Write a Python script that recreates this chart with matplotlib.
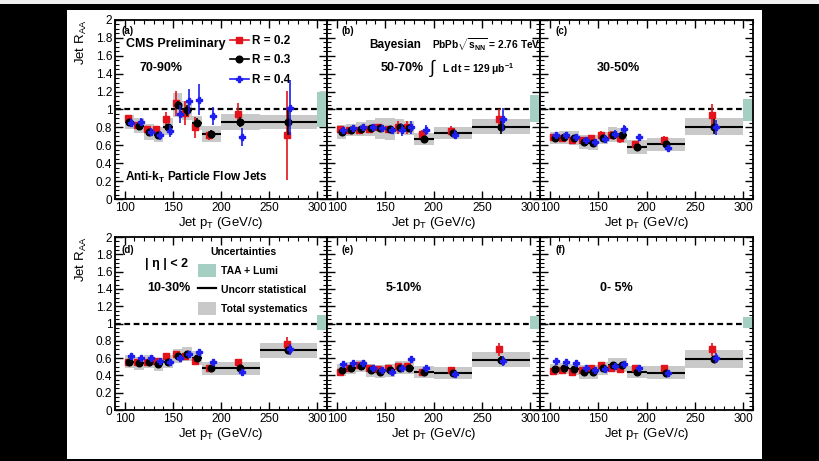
import matplotlib
matplotlib.use('Agg')
import matplotlib.pyplot as plt
from matplotlib.patches import Rectangle, Patch
from matplotlib.lines import Line2D
from matplotlib.ticker import MultipleLocator, FuncFormatter

plt.rcParams['font.family'] = ['Liberation Sans', 'DejaVu Sans']
plt.rcParams['mathtext.fontset'] = 'custom'
plt.rcParams['mathtext.rm'] = 'Liberation Sans'
plt.rcParams['mathtext.it'] = 'Liberation Sans:italic'
plt.rcParams['mathtext.bf'] = 'Liberation Sans:bold'

# bins in jet pT (GeV/c)
bin_lo = [100, 110, 120, 130, 140, 150, 160, 170, 180, 200, 240]
bin_hi = [110, 120, 130, 140, 150, 160, 170, 180, 200, 240, 300]
pt = [105, 115, 125, 135, 145, 155, 165, 175, 190, 220, 270]

# (a) 70-90%
r02_a = [0.90, 0.83, 0.78, 0.78, 0.89, 1.07, 0.96, 0.80, 0.71, 0.95, 0.71]
r03_a = [0.86, 0.82, 0.75, 0.72, 0.81, 1.05, 0.99, 0.85, 0.73, 0.86, 0.86]
r04_a = [0.85, 0.86, 0.75, 0.71, 0.76, 0.95, 1.09, 1.11, 0.93, 0.69, 1.02]
e02_a = [0.04, 0.03, 0.04, 0.04, 0.08, 0.14, 0.13, 0.12, 0.05, 0.12, 0.50]
e03_a = [0.02, 0.02, 0.02, 0.02, 0.03, 0.05, 0.06, 0.05, 0.04, 0.06, 0.15]
e04_a = [0.04, 0.04, 0.04, 0.05, 0.07, 0.10, 0.14, 0.17, 0.10, 0.10, 0.31]
sys_a = [0.08, 0.08, 0.09, 0.08, 0.09, 0.13, 0.11, 0.08, 0.09, 0.09, 0.08]

# (b) 50-70%
r02_b = [0.78, 0.77, 0.77, 0.78, 0.80, 0.78, 0.80, 0.80, 0.73, 0.76, 0.89]
r03_b = [0.75, 0.77, 0.78, 0.79, 0.79, 0.78, 0.81, 0.79, 0.67, 0.74, 0.81]
r04_b = [0.77, 0.79, 0.80, 0.80, 0.79, 0.77, 0.77, 0.80, 0.77, 0.72, 0.89]
e02_b = [0.03, 0.03, 0.03, 0.04, 0.04, 0.04, 0.07, 0.07, 0.04, 0.06, 0.12]
e03_b = [0.02, 0.02, 0.02, 0.02, 0.02, 0.02, 0.03, 0.03, 0.02, 0.02, 0.08]
e04_b = [0.03, 0.03, 0.04, 0.04, 0.04, 0.04, 0.07, 0.07, 0.06, 0.05, 0.13]
sys_b = [0.08, 0.07, 0.08, 0.09, 0.12, 0.12, 0.08, 0.08, 0.07, 0.07, 0.08]

# (c) 30-50%
r02_c = [0.69, 0.68, 0.66, 0.66, 0.68, 0.72, 0.72, 0.68, 0.61, 0.66, 0.94]
r03_c = [0.68, 0.69, 0.68, 0.64, 0.63, 0.68, 0.72, 0.71, 0.58, 0.61, 0.81]
r04_c = [0.72, 0.71, 0.69, 0.66, 0.64, 0.67, 0.73, 0.78, 0.69, 0.57, 0.80]
e02_c = [0.03, 0.02, 0.03, 0.03, 0.03, 0.04, 0.04, 0.05, 0.03, 0.04, 0.12]
e03_c = [0.02, 0.02, 0.02, 0.02, 0.02, 0.02, 0.02, 0.03, 0.02, 0.03, 0.08]
e04_c = [0.03, 0.03, 0.03, 0.03, 0.03, 0.04, 0.04, 0.05, 0.04, 0.03, 0.08]
sys_c = [0.07, 0.07, 0.08, 0.08, 0.08, 0.07, 0.08, 0.08, 0.08, 0.07, 0.09]

# (d) 10-30%
r02_d = [0.55, 0.55, 0.56, 0.57, 0.62, 0.65, 0.63, 0.57, 0.49, 0.56, 0.76]
r03_d = [0.56, 0.54, 0.56, 0.53, 0.56, 0.62, 0.65, 0.60, 0.48, 0.48, 0.69]
r04_d = [0.63, 0.60, 0.60, 0.57, 0.56, 0.60, 0.65, 0.67, 0.55, 0.44, 0.70]
e02_d = [0.03, 0.02, 0.02, 0.03, 0.03, 0.03, 0.03, 0.03, 0.03, 0.03, 0.08]
e03_d = [0.02, 0.01, 0.02, 0.02, 0.02, 0.02, 0.02, 0.02, 0.02, 0.02, 0.04]
e04_d = [0.02, 0.02, 0.02, 0.02, 0.02, 0.03, 0.03, 0.04, 0.02, 0.03, 0.06]
sys_d = [0.075, 0.075, 0.075, 0.075, 0.075, 0.08, 0.08, 0.08, 0.07, 0.07, 0.09]

# (e) 5-10%
r02_e = [0.44, 0.49, 0.52, 0.48, 0.47, 0.48, 0.51, 0.51, 0.44, 0.46, 0.70]
r03_e = [0.46, 0.49, 0.51, 0.46, 0.44, 0.46, 0.49, 0.49, 0.44, 0.43, 0.58]
r04_e = [0.53, 0.54, 0.54, 0.48, 0.46, 0.44, 0.48, 0.59, 0.49, 0.42, 0.57]
e02_e = [0.02, 0.02, 0.02, 0.02, 0.02, 0.03, 0.03, 0.03, 0.02, 0.02, 0.07]
e03_e = [0.01, 0.01, 0.02, 0.01, 0.01, 0.02, 0.02, 0.02, 0.01, 0.01, 0.04]
e04_e = [0.02, 0.02, 0.03, 0.02, 0.02, 0.02, 0.03, 0.04, 0.03, 0.02, 0.06]
sys_e = [0.07, 0.07, 0.07, 0.075, 0.075, 0.075, 0.075, 0.075, 0.065, 0.07, 0.085]

# (f) 0-5%
r02_f = [0.45, 0.46, 0.44, 0.46, 0.49, 0.52, 0.49, 0.47, 0.49, 0.48, 0.70]
r03_f = [0.47, 0.48, 0.47, 0.44, 0.44, 0.48, 0.52, 0.52, 0.44, 0.43, 0.59]
r04_f = [0.57, 0.56, 0.54, 0.49, 0.46, 0.47, 0.51, 0.53, 0.49, 0.43, 0.60]
e02_f = [0.02, 0.02, 0.02, 0.02, 0.02, 0.03, 0.03, 0.03, 0.02, 0.03, 0.07]
e03_f = [0.01, 0.01, 0.01, 0.01, 0.01, 0.02, 0.02, 0.02, 0.01, 0.01, 0.04]
e04_f = [0.02, 0.02, 0.02, 0.02, 0.02, 0.02, 0.03, 0.04, 0.02, 0.02, 0.06]
sys_f = [0.06, 0.06, 0.065, 0.08, 0.08, 0.075, 0.08, 0.08, 0.07, 0.075, 0.10]

# TAA + lumi band at unity, per panel a..f
taa_lo = [0.81, 0.86, 0.87, 0.93, 0.94, 0.95]
taa_hi = [1.19, 1.16, 1.12, 1.10, 1.09, 1.08]

panels = [
    ('a', r02_a, r03_a, r04_a, e02_a, e03_a, e04_a, sys_a),
    ('b', r02_b, r03_b, r04_b, e02_b, e03_b, e04_b, sys_b),
    ('c', r02_c, r03_c, r04_c, e02_c, e03_c, e04_c, sys_c),
    ('d', r02_d, r03_d, r04_d, e02_d, e03_d, e04_d, sys_d),
    ('e', r02_e, r03_e, r04_e, e02_e, e03_e, e04_e, sys_e),
    ('f', r02_f, r03_f, r04_f, e02_f, e03_f, e04_f, sys_f),
]

RED = '#e3121b'
BLUE = '#1e1ef0'
GRAY = '#c9c9c9'
TEAL = '#a6cfc3'
W, H = 820, 461
XMIN, XMAX = 90, 310

fig = plt.figure(figsize=(8.2, 4.61), dpi=100, facecolor='black')
fig.patches.append(Rectangle((67 / W, 1 - 459 / H), (762 - 67) / W, (459 - 10) / H,
                             transform=fig.transFigure, facecolor='white', zorder=-10))
fig.patches.append(Rectangle((0, 1 - 4 / H), 1, 4 / H, transform=fig.transFigure,
                             facecolor='#f0f0f0', zorder=-10))


def ftext(x, y, s, **kw):
    kw.setdefault('fontweight', 'bold')
    kw.setdefault('va', 'center')
    fig.text(x / W, 1 - y / H, s, **kw)


col_left = [115, 327, 540]
col_w = [212, 213, 213]
row_top = [20, 237]
row_bot = [199, 410]

axes = []
for i, (name, r02, r03, r04, e02, e03, e04, sysu) in enumerate(panels):
    row, col = divmod(i, 3)
    ax = fig.add_axes([col_left[col] / W, 1 - row_bot[row] / H,
                       col_w[col] / W, (row_bot[row] - row_top[row]) / H])
    ax.set_facecolor('white')
    widths = [h - l for l, h in zip(bin_lo, bin_hi)]
    ax.bar(bin_lo, [2 * s for s in sysu], width=widths,
           bottom=[v - s for v, s in zip(r03, sysu)], align='edge',
           color=GRAY, linewidth=0, zorder=1)
    ax.axhline(1, color='black', lw=1.6, ls=(0, (2.6, 1.6)), zorder=2)
    ax.bar(300, taa_hi[i] - taa_lo[i], width=XMAX - 300, bottom=taa_lo[i],
           align='edge', color=TEAL, linewidth=0, zorder=3)
    ax.hlines(r03, bin_lo, bin_hi, color='black', lw=1.5, zorder=4)
    ax.errorbar([p - 2 for p in pt], r02, yerr=e02, fmt='s', color=RED, ms=4.8,
                elinewidth=1.2, capsize=0, zorder=5)
    ax.errorbar(pt, r03, yerr=e03, fmt='o', color='black', ms=4.8,
                elinewidth=1.2, capsize=0, zorder=6)
    ax.errorbar([p + 2 for p in pt], r04, yerr=e04, fmt='P', color=BLUE, ms=5,
                elinewidth=1.2, capsize=0, zorder=7)

    ax.set_xlim(XMIN, XMAX)
    ax.set_ylim(0, 2)
    ax.xaxis.set_major_locator(MultipleLocator(50))
    ax.xaxis.set_minor_locator(MultipleLocator(10))
    ax.yaxis.set_major_locator(MultipleLocator(0.2))
    ax.yaxis.set_minor_locator(MultipleLocator(0.05))
    ax.tick_params(which='both', direction='in', top=True, right=True,
                   labelsize=8.5, pad=2)
    ax.tick_params(which='major', length=6, width=1)
    ax.tick_params(which='minor', length=3, width=0.8)
    ax.set_xticks([100, 150, 200, 250, 300])
    if col == 0:
        ax.yaxis.set_major_formatter(FuncFormatter(lambda v, _: '%g' % round(v, 1)))
        ax.set_ylabel('Jet R$_{\\mathregular{AA}}$', fontsize=9.5, loc='top', labelpad=5)
    else:
        ax.set_yticklabels([])
    ax.set_xlabel('Jet p$_{\\mathregular{T}}$ (GeV/c)', fontsize=9.5, labelpad=1)
    for sp in ax.spines.values():
        sp.set_linewidth(1.3)
        sp.set_zorder(10)
    axes.append(ax)

# panel labels
for (x, y), lab in zip([(122, 31), (342, 31), (556, 31), (122, 250), (342, 250), (556, 250)],
                       ['(a)', '(b)', '(c)', '(d)', '(e)', '(f)']):
    ftext(x, y, lab, fontsize=7)

ftext(126, 44, 'CMS Preliminary', fontsize=9)
ftext(140, 68, '70-90%', fontsize=9)
ftext(125, 177, 'Anti-k$_{\\mathbf{T}}$ Particle Flow Jets', fontsize=8.5)

ftext(369, 45, 'Bayesian', fontsize=8.5)
ftext(432, 45, 'PbPb$\\sqrt{\\mathbf{s}_{\\mathbf{NN}}}$ = 2.76 TeV', fontsize=7.3)
ftext(381, 68, '50-70%', fontsize=9)
ftext(429, 68, '$\\int$', fontsize=13, fontweight='normal')
ftext(442, 69, 'L dt = 129 $\\mathbf{\\mu}$b$^{\\mathbf{-1}}$', fontsize=7.3)

ftext(597, 68, '30-50%', fontsize=9)

ftext(145, 264, '| η | < 2', fontsize=9)
ftext(147, 288, '10-30%', fontsize=9)
ftext(386, 288, '5-10%', fontsize=9)
ftext(600, 288, '0- 5%', fontsize=9)

# legend for jet radius
h_r = [Line2D([], [], color=RED, marker='s', ms=4.8, lw=1.2),
       Line2D([], [], color='black', marker='o', ms=4.8, lw=1.2),
       Line2D([], [], color=BLUE, marker='P', ms=5, lw=1.2)]
axes[0].legend(h_r, ['R = 0.2', 'R = 0.3', 'R = 0.4'], loc='upper left',
               bbox_to_anchor=(230 / W, 1 - 35 / H), bbox_transform=fig.transFigure,
               frameon=False, prop={'weight': 'bold', 'size': 8.5},
               handlelength=1.6, handletextpad=0.3, labelspacing=0.62,
               borderpad=0, borderaxespad=0)

# legend for uncertainties
h_u = [Patch(facecolor=TEAL, edgecolor='none'),
       Line2D([], [], color='black', lw=1.6),
       Patch(facecolor=GRAY, edgecolor='none')]
leg = axes[3].legend(h_u, ['TAA + Lumi', 'Uncorr statistical', 'Total systematics'],
                     loc='upper left', bbox_to_anchor=(198 / W, 1 - 247 / H),
                     bbox_transform=fig.transFigure, frameon=False,
                     prop={'weight': 'bold', 'size': 7.5}, title='Uncertainties',
                     title_fontproperties={'weight': 'bold', 'size': 7.5},
                     handlelength=1.7, handleheight=1.5, handletextpad=0.5,
                     labelspacing=0.6, borderpad=0, borderaxespad=0)
leg._legend_box.align = 'left'
leg._legend_box.sep = 5
leg.get_title().set_position((12, 0))

fig.savefig('out.png', dpi=100, facecolor=fig.get_facecolor())
